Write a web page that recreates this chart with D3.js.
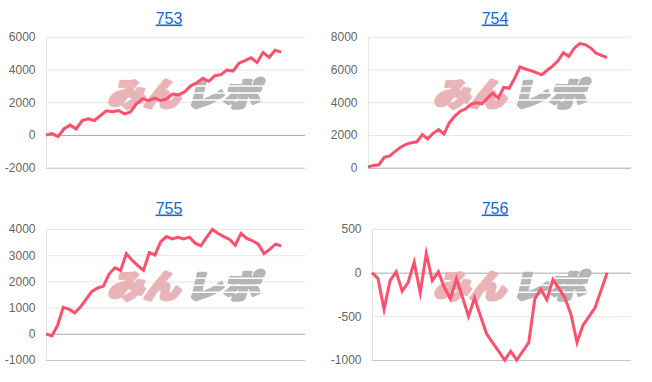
<!DOCTYPE html>
<html lang="ja">
<head>
<meta charset="utf-8">
<title>みんレポ 台別グラフ</title>
<script src="https://cdn.jsdelivr.net/npm/d3@7/dist/d3.min.js"></script>
<style>
  html, body { margin: 0; padding: 0; background: #fff; }
  svg { display: block; }
</style>
</head>
<body>
<svg id="chart" width="652" height="382"></svg>
<script>
/* global d3 */

// ─── data ────────────────────────────────────────────────────────────────────

var machineNames = ['753', '754', '755', '756'];

var diff753 = [0, 80, -100, 380, 600, 370, 880, 990, 880, 1170, 1470, 1420, 1490, 1290,
  1410, 1900, 2200, 2100, 2250, 2100, 2200, 2500, 2450, 2640, 3000, 3180, 3460, 3280,
  3620, 3680, 3960, 3900, 4380, 4540, 4720, 4420, 5040, 4740, 5180, 5060];

var diff754 = [50, 130, 180, 630, 720, 1000, 1250, 1420, 1530, 1580, 2020, 1760, 2100,
  2320, 2060, 2750, 3150, 3450, 3600, 3880, 3960, 3900, 4250, 4550, 4250, 4900, 4850,
  5450, 6150, 6030, 5930, 5800, 5670, 5950, 6200, 6530, 7020, 6800, 7300, 7580, 7520,
  7320, 7000, 6860, 6730];

var diff755 = [0, -80, 310, 1010, 940, 800, 1020, 1320, 1620, 1750, 1820, 2280, 2520,
  2420, 3060, 2810, 2600, 2420, 3100, 3010, 3520, 3710, 3620, 3680, 3620, 3690, 3460,
  3360, 3680, 3990, 3830, 3710, 3600, 3380, 3830, 3640, 3550, 3420, 3060, 3220, 3420, 3350];

var diff756 = [0, -70, -420, -90, 10, -210, -110, 120, -230, 220, -90, 10, -170, -300,
  -70, -280, -500, -290, -500, -700, -800, -900, -1000, -900, -1000, -900, -800, -300,
  -190, -310, -80, -180, -290, -480, -800, -600, -500, -400, -200, 0];

var ticks753 = [-2000, 0, 2000, 4000, 6000];
var ticks754 = [0, 2000, 4000, 6000, 8000];
var ticks755 = [-1000, 0, 1000, 2000, 3000, 4000];
var ticks756 = [-1000, -500, 0, 500];

// ─── layout ──────────────────────────────────────────────────────────────────

var FONT = '"Liberation Sans", Arial, Helvetica, sans-serif';
var LOGO_FONT = '"Noto Sans CJK JP", "Noto Sans", sans-serif';
var LINE_COLOR = '#fe506c';
var PANEL_W = 326;
var PLOT_RIGHT = 305;     // right edge of the plot, panel-relative
var LABEL_PAD = 4.8;      // space left of the widest tick label
var TICK_GAP = 10.5;      // label to axis
var END_FRAC = 0.908;     // last point sits at this fraction of the x range
var ROWS = [
  { title: 23.5, top: 36.7, bottom: 167.7 },
  { title: 213.5, top: 229, bottom: 360 }
];

var panels = [
  { name: machineNames[0], values: diff753, ticks: ticks753, col: 0, row: 0 },
  { name: machineNames[1], values: diff754, ticks: ticks754, col: 1, row: 0 },
  { name: machineNames[2], values: diff755, ticks: ticks755, col: 0, row: 1 },
  { name: machineNames[3], values: diff756, ticks: ticks756, col: 1, row: 1 }
];

var svg = d3.select('#chart');

// stripes cut through the grey half of the logo
var defs = svg.append('defs');
var mask = defs.append('mask')
  .attr('id', 'logo-stripes')
  .attr('maskUnits', 'userSpaceOnUse')
  .attr('x', -200).attr('y', -60).attr('width', 400).attr('height', 120);
mask.append('rect')
  .attr('x', -200).attr('y', -60).attr('width', 400).attr('height', 120)
  .attr('fill', '#fff');
[-8.5, -1.5, 5.5].forEach(function (sy) {
  mask.append('rect')
    .attr('x', -200).attr('y', sy).attr('width', 400).attr('height', 1.6)
    .attr('fill', '#000');
});

var measure = svg.append('text')
  .attr('font-family', FONT)
  .attr('font-size', 12)
  .attr('visibility', 'hidden');

function textWidth(s) {
  measure.text(s);
  return measure.node().getComputedTextLength();
}

function fmt(d) { return String(d); }

function logoText(logo, str, anchor, xPos, len, color) {
  return logo.append('text')
    .attr('x', xPos).attr('y', 12)
    .attr('text-anchor', anchor)
    .attr('font-family', LOGO_FONT)
    .attr('font-weight', 900)
    .attr('font-size', 32)
    .attr('textLength', len)
    .attr('lengthAdjust', 'spacingAndGlyphs')
    .attr('fill', color)
    .attr('stroke', color)
    .attr('stroke-width', 3.2)
    .attr('stroke-linejoin', 'round')
    .text(str);
}

function drawLogo(g, cx, cy) {
  var logo = g.append('g')
    .attr('transform', 'translate(' + cx + ',' + cy + ') skewX(-14)');
  logoText(logo, 'みん', 'end', -3, 72, '#e9b4b8');
  logoText(logo, 'レポ', 'start', 3, 74, '#b6b6b6')
    .attr('mask', 'url(#logo-stripes)');
}

function drawPanel(p) {
  var row = ROWS[p.row];
  var x0 = p.col * PANEL_W;
  var maxLabel = d3.max(p.ticks, function (t) { return textWidth(fmt(t)); });
  var left = x0 + LABEL_PAD + maxLabel + TICK_GAP;
  var right = x0 + PLOT_RIGHT;

  var y = d3.scaleLinear()
    .domain(d3.extent(p.ticks))
    .range([row.bottom, row.top]);
  var x = d3.scaleLinear()
    .domain([0, (p.values.length - 1) / END_FRAC])
    .range([left, right]);

  var g = svg.append('g').attr('class', 'panel');

  // title (a link in the original page)
  g.append('text')
    .attr('x', x0 + 169)
    .attr('y', row.title)
    .attr('text-anchor', 'middle')
    .attr('font-family', FONT)
    .attr('font-size', 16)
    .attr('fill', '#1a66cc')
    .attr('text-decoration', 'underline')
    .text(p.name);

  var axis = g.append('g')
    .attr('transform', 'translate(' + left + ',0)')
    .call(d3.axisLeft(y)
      .tickValues(p.ticks)
      .tickFormat(fmt)
      .tickSize(-(right - left))
      .tickSizeOuter(0)
      .tickPadding(TICK_GAP));

  axis.select('.domain').attr('stroke', '#e6e6e6');
  axis.selectAll('.tick line')
    .attr('stroke', function (d) {
      if (d === 0) return '#ababab';
      if (d === y.domain()[0]) return '#c6c6c6';
      return '#e6e6e6';
    });
  axis.selectAll('.tick text')
    .attr('font-family', FONT)
    .attr('font-size', 12)
    .attr('fill', '#666');

  drawLogo(g, x0 + 185.5, row.top + 57);

  var line = d3.line()
    .x(function (d, i) { return x(i); })
    .y(function (d) { return y(d); });

  g.append('path')
    .datum(p.values)
    .attr('d', line)
    .attr('fill', 'none')
    .attr('stroke', LINE_COLOR)
    .attr('stroke-width', 3)
    .attr('stroke-linejoin', 'miter')
    .attr('stroke-miterlimit', 10);
}

panels.forEach(drawPanel);
measure.remove();
</script>
</body>
</html>
